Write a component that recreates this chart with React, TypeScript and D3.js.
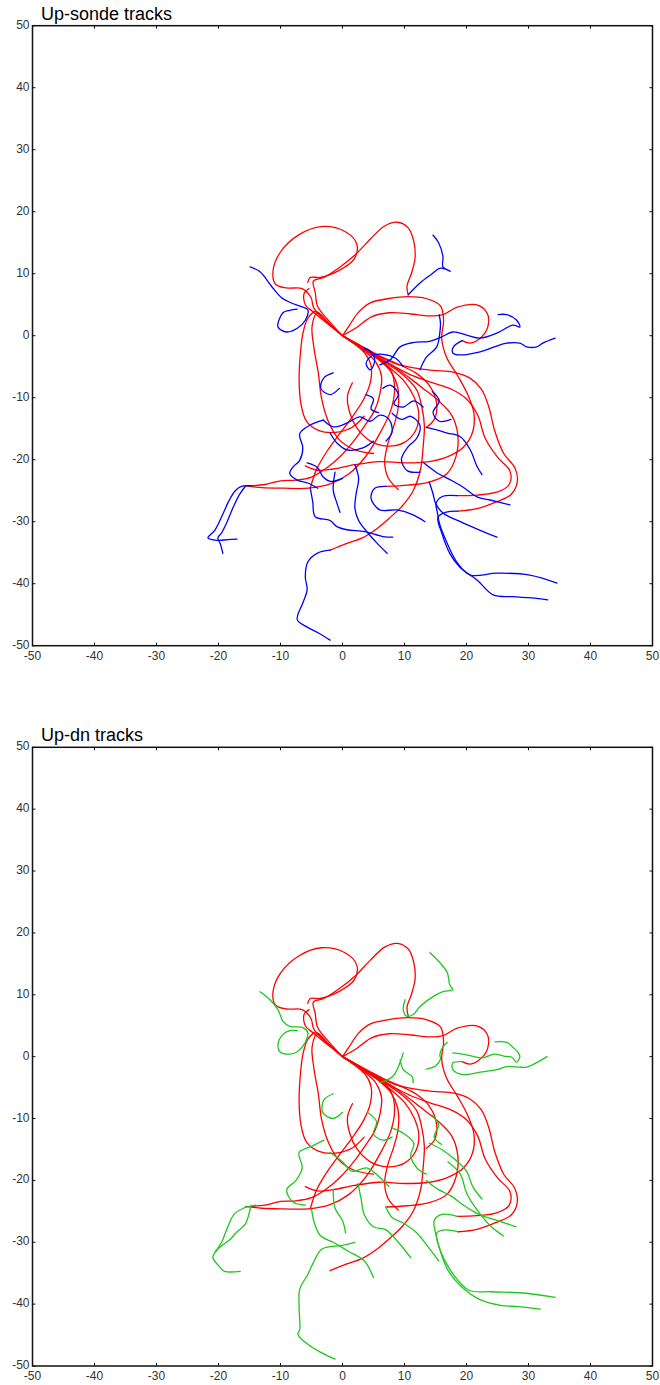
import React from 'react';
import * as d3 from 'd3';

type Pt = [number, number];

const tickValues = [-50, -40, -30, -20, -10, 0, 10, 20, 30, 40, 50];
const panelTitles = ['Up-sonde tracks', 'Up-dn tracks'];

// Up-sonde tracks, first (red) part, in km from launch
const redTracks: Pt[][] = [
  [[0,0],[-2.5,2.2],[-4.6,4.4],[-5.1,6.2],[-6.5,7.6],[-9,7.7],[-10.8,8.3],[-11.2,10.5],[-10,13.5],[-7,16.3],[-3.4,17.6],[0.4,16.8],[2.3,14.8],[1.9,12.4],[-0.6,10.5],[-3.6,9.4],[-5.2,9.4],[-5.6,8.6]],
  [[0,0],[-2.2,2.4],[-4,4.7],[-4.4,7],[-4.7,8.8],[-3,9.4],[-0.5,11],[2,13],[4.5,15.6],[6.8,17.7],[8.8,18.3],[10.6,17.4],[11.5,15.2],[11.7,12.5],[11.1,10],[10.4,8],[10.6,6.6]],
  [[0,0],[2.4,1.4],[4.6,3],[7.5,3.7],[11,3.5],[14,3.2],[16.2,3.4],[18.5,4.6],[21.5,5],[23.3,3.7],[23.4,1.3],[22.1,-0.5],[20.6,-1.2],[19.3,-0.8]],
  [[0,0],[2,-1.1],[4.2,-2.4],[6.4,-3.6],[8.8,-4.6],[11.5,-5.2],[14.5,-5.6],[18,-5.9],[20.5,-6.8],[22.4,-8.6],[23.6,-11.5],[24.6,-15.5],[26,-19],[27.8,-21.3],[28.2,-23.5],[27.2,-25.6],[24.8,-26.8],[21.7,-27.9],[18.6,-28.3]],
  [[0,0],[2,-1.2],[4.1,-2.5],[6.3,-3.8],[8.6,-5.1],[11.2,-6.4],[14.2,-7.5],[17.5,-8.6],[20,-10.2],[21.8,-12.8],[23,-16.5],[25,-19.6],[27,-21.8],[26.9,-24],[25,-25.2],[21.7,-25.7],[18.5,-25.8]],
  [[0,0],[1.2,1.8],[2.6,3.8],[4.5,5.3],[7.5,6],[10.5,6.3],[13.5,6],[15.8,4.8],[16.3,2.5],[16,-0.5],[16.8,-3.5],[18.6,-6.5],[20.2,-9.5],[21.2,-12.5],[21,-15.5],[19.5,-18],[17,-19.5],[14,-20.3],[10,-20.5],[6,-20.3],[2,-20.8],[-1.5,-21.5],[-4,-21.7],[-6,-21]],
  [[0,0],[1.9,-1.3],[3.8,-2.7],[5.4,-4.3],[6.3,-6.6],[6,-9.5],[5.2,-12],[3.6,-14.5],[1.8,-17],[-0.3,-19.4],[-2.5,-21.3],[-5,-22.8],[-7.5,-23.3],[-10,-23.4],[-12.5,-24],[-14.8,-24.2]],
  [[0,0],[2,-1.2],[4,-2.5],[6,-3.9],[7.8,-5.6],[8.4,-8.5],[7.8,-12],[6,-15.8],[3.8,-19.4],[1,-22.3],[-2,-23.9],[-5.5,-24.6],[-9.5,-24.6],[-13,-24.5],[-15.6,-24.2]],
  [[0,0],[2,-1.2],[4,-2.5],[6.2,-3.9],[8.4,-5.3],[10.4,-6.9],[12,-8.8],[12.8,-11.5],[13.2,-14.5],[13,-18],[12.6,-21.5],[11.4,-25],[9.6,-27.5],[7.7,-29.3],[5.7,-31],[3.2,-32.6],[0.7,-33.5],[-2,-34.6]],
  [[0,0],[2.1,-1.2],[4.2,-2.5],[6.4,-3.8],[8.6,-5.2],[10.8,-6.8],[13,-8.5],[15.5,-10.5],[17.6,-12.8],[18.6,-16],[18.3,-19.5],[16.8,-22.3],[14,-23.6],[10.5,-24.1],[7,-24.3]],
  [[0,0],[1.9,-1.2],[3.9,-2.5],[6,-3.9],[8,-5.5],[10,-7.4],[11.5,-9.8],[12.3,-12.5],[11.8,-15.3],[10,-17.2],[7.2,-17.8],[4.5,-17],[2.4,-15],[1.2,-12.5],[0.8,-9.8],[1.6,-7.6]],
  [[0,0],[2,-1.3],[4,-2.6],[6,-4],[7.8,-5.8],[8.9,-8.3],[9,-11.5],[8.3,-14.5],[7.3,-17.5],[6.8,-20.5],[7.4,-23],[9,-24.8]],
  [[0,0],[1.9,-1.3],[3.6,-2.8],[4.6,-4.8],[4.5,-7.5],[3.4,-10.3],[1.5,-13.2],[-0.6,-16],[-2.6,-18.8],[-4.2,-21.6],[-5.2,-24.6]],
  [[0,0],[2,-1.1],[4.2,-2.3],[6.5,-3.5],[9,-4.6],[11.8,-6],[14,-8],[15.2,-11],[14.8,-13.5],[13.5,-14.8]],
  [[0,0],[-2.2,2],[-4.3,3.9],[-5.6,2.8],[-6.4,0.3],[-6.8,-3],[-7,-7],[-6.7,-11],[-5.8,-13.8],[-3.8,-15.3],[-1.2,-15.6],[1.5,-14.8],[3.5,-13]],
  [[0,0],[-2,1.8],[-4.1,3.6],[-4.9,1.6],[-4.6,-2],[-3.9,-6],[-3.4,-10],[-2.3,-13.8],[-0.5,-16.8],[2,-18.4],[5,-19]],
  [[0,0],[-2.6,2.1],[-4.8,3.9],[-6,5],[-6.2,6.8],[-5.4,7.6]]
];

// Up-sonde tracks, later (blue) part
const blueTracks: Pt[][] = [
  [[-7.3,4.3],[-8.5,4.1],[-9.6,3.7],[-10.4,1.4],[-9,0.6],[-7.3,1.2],[-6,2.5],[-5.6,4.2],[-6.4,4.6],[-8.5,5.4],[-9.8,6.1],[-11.4,7.9],[-13.3,10.3],[-14.9,11.1]],
  [[10.6,6.6],[12.5,8.5],[14.2,9.8],[15.8,10.9],[17.4,10.4],[16.2,11.1],[16.2,12.8],[15.5,15],[14.6,16.2]],
  [[19.3,-0.8],[17.9,-1.8],[17.8,-2.8],[19,-3.1],[22.2,-2.6],[24.5,-1.8],[26.5,-1.2],[28.6,-1.2],[29.7,-1.8],[31.3,-1.8],[32.3,-1.2],[34.3,-0.4]],
  [[6,-4.7],[7.7,-3.9],[9.3,-1.8],[11.4,-1.1],[14,-0.9],[16,-0.2],[17.8,0.6],[20,0.1],[22.2,-0.4],[24.9,0.4],[27.5,1.7],[28.6,1.4],[28.1,2.5],[26.5,3.4],[25.1,3.4]],
  [[12.5,-5.5],[13.5,-3.5],[15.2,-1.8],[15.7,0.5],[15.8,2],[15.6,3.4]],
  [[3.5,-2],[4.5,-2.5],[5.2,-4],[4.5,-5.5],[3.8,-4.5],[4.8,-3.2],[6.5,-3],[8.5,-3.6],[9.8,-5]],
  [[18.6,-28.3],[16.6,-28.5],[15.4,-29.3],[16,-31.8],[17.3,-35.1],[18.9,-37.3],[21.7,-39.4],[24.3,-41.8],[27.5,-42.1],[30.5,-42.3],[33.1,-42.6]],
  [[18.5,-25.8],[16.2,-25.9],[15.1,-27],[15.3,-28.5],[15.7,-30.5],[16.9,-33.5],[18.5,-36.6],[20.6,-38.6],[24.9,-38.3],[30.2,-38.6],[34.6,-39.9]],
  [[-5.2,-24.6],[-4.8,-26.8],[-4.4,-29.2],[-2,-29.8],[-0.9,-30.8],[0.7,-31.3],[3.6,-31.6],[6.5,-32.4],[8.1,-32.5]],
  [[-1.2,-22],[-1.5,-24.9],[-0.9,-27],[-0.4,-28.5]],
  [[2,-20.8],[2.6,-23],[2.2,-25.5],[2,-27.8],[2.6,-29.8],[4,-31.7],[5.6,-33.5],[7.2,-35.1]],
  [[7,-24.3],[5.2,-24.6],[4.6,-26.2],[6,-28.1],[8.8,-28.1],[11.4,-28.9],[13.3,-30]],
  [[14,-23.6],[14.6,-25.5],[15,-27],[16.2,-28.6],[19,-30],[22.2,-31.4],[24.9,-32.5]],
  [[13,-20.4],[14,-21.2],[15.2,-22.1],[17.5,-23.3],[19.4,-24.4],[21.7,-26],[23.8,-26.5],[27,-27.3]],
  [[13.5,-14.8],[15.2,-15.2],[16.9,-15.7],[19,-16.3],[20.6,-18.4],[21.7,-21.1],[22.5,-22.4]],
  [[-14.8,-24.2],[-16.3,-24.3],[-17.3,-25],[-18.3,-26.6],[-19.4,-29],[-20.6,-31.4],[-21.7,-32.6],[-20.2,-33],[-18.5,-32.9],[-17,-32.8]],
  [[-15.6,-24.2],[-16.6,-25.6],[-17.6,-27.6],[-18.6,-30],[-19.5,-31.8],[-20.1,-32.6],[-19.7,-33.6],[-19.3,-35.1]],
  [[-2,-34.6],[-4.1,-35.1],[-5.6,-36.5],[-6,-38.9],[-5.7,-41],[-6.4,-43.1],[-7.3,-45.8],[-5.7,-47],[-3.8,-48],[-2,-49.1]],
  [[-3.1,-13.6],[-5.2,-14.4],[-6.9,-15.8],[-6.4,-18.1],[-6.9,-20.1],[-8,-21.2],[-8.5,-22.2],[-7.3,-23.3],[-5.5,-23.8],[-4,-24.6]],
  [[-3.1,-13.6],[-1.5,-14.7],[0.7,-14.1],[2.8,-13.1],[4.5,-13.8],[6,-12.8],[7.5,-13.5],[8,-15.5],[7,-17]],
  [[-2,-15.7],[-0.9,-17.3],[0.7,-18.4],[3.3,-18.1],[5,-17]],
  [[-5.7,-20.5],[-4.1,-21.2],[-3.1,-22.8],[-2,-23.5],[0,-23]],
  [[8,-12.5],[9.5,-13.5],[11,-13],[12.5,-14.5],[12,-16.5],[10.5,-18],[9.5,-20],[10.5,-21.8],[12.5,-22]],
  [[6.5,-8.5],[7.8,-8],[9,-9.5],[8.3,-11],[9.8,-11.5],[11.5,-10.5],[13,-11.5]],
  [[-1.5,-6],[-3,-6.8],[-3.5,-8.5],[-2,-9.5],[-0.5,-8.5]],
  [[14.5,-9],[15.6,-10.5],[14.6,-12.4],[15.6,-13.8],[17.5,-13.5]],
  [[3.8,-9.5],[5,-10.2],[4.6,-11.8],[5.8,-12.4]]
];

// Down-sonde tracks (green)
const greenTracks: Pt[][] = [
  [[-7.3,4.2],[-8.5,4.2],[-9.6,3.6],[-10.4,2],[-10.1,0.8],[-8.5,0.4],[-7.3,0.8],[-6,2.3],[-5.6,3.9],[-6.4,4.7],[-8.5,4.9],[-9.6,5.7],[-10.4,7.6],[-11.7,9.2],[-13.3,10.5]],
  [[10.1,9.2],[9.8,7.6],[10.4,6.5],[11.4,6.8],[12.5,8.1],[14.6,9.7],[16.2,10.5],[17.8,10.8],[17.3,11.6],[16.9,13.6],[15.7,15.2],[14.1,16.8]],
  [[19.3,-0.8],[17.8,-1],[17.8,-2.1],[19.4,-2.9],[22.2,-2.5],[24.9,-2.1],[26.5,-1.6],[28.6,-1.7],[29.7,-1.7],[30.7,-1.3],[33,0]],
  [[17.8,0.6],[20,0.3],[22.5,-0.2],[24.5,0.4],[26,0.1],[27.3,-0.1],[28.1,-0.9],[28.6,0],[28.3,0.7],[27.5,1.5],[26.5,2.3],[24.6,2.4]],
  [[6,-4.2],[8.1,-3.2],[9.3,-0.9],[9.8,0.6]],
  [[9.3,-0.5],[9.8,-2.1],[11.2,-3.2],[11.4,-4.2]],
  [[16.9,2.3],[16.2,1.6],[15.7,0.3],[15.8,-0.4],[15,-1.5],[13.5,-2]],
  [[18.6,-28.3],[16.5,-28],[15.2,-28.5],[15.5,-30.5],[16.8,-33.5],[18.5,-36],[20.5,-37.8],[24,-38],[29,-38.2],[34.3,-38.9]],
  [[18.5,-25.8],[16,-25.5],[14.8,-26.5],[15,-28.5],[15.8,-31.5],[17,-34.5],[19,-37],[22,-39.2],[25.5,-40.2],[28.5,-40.4],[31.9,-40.8]],
  [[2,-30],[0,-30.5],[-3.3,-31.1],[-4.8,-33.5],[-5.6,-35.2],[-6.9,-37.6],[-7,-40.5],[-6.9,-44.1],[-7.2,-44.9],[-5.6,-46.5],[-3.5,-47.8],[-1.2,-48.9]],
  [[-14.8,-24.2],[-15.7,-27.1],[-17,-28.3],[-18.1,-29.5],[-20.1,-31.1],[-20.9,-32.4],[-19.8,-34],[-19,-34.7],[-16.5,-34.7]],
  [[-14,-24],[-16,-24.5],[-17.5,-25.5],[-18.5,-27.5],[-19.5,-30],[-20.5,-31.5]],
  [[-5,-24.6],[-4.5,-27],[-3.5,-29],[-1.5,-30],[1,-31.5],[3.5,-33],[5,-35.7]],
  [[-1.5,-21.5],[-1.2,-24.5],[0,-26.5],[0.5,-28.5]],
  [[2.5,-20.5],[3,-23],[3.5,-25.5],[5,-27.5],[7,-28],[9,-30],[11,-32.5]],
  [[7,-24.3],[8,-26],[10,-27],[12,-28.5],[14,-31],[15.5,-33]],
  [[13.5,-20],[15.5,-21.5],[17.5,-22.5],[19.5,-24],[22,-25.5],[25,-26.5],[28,-27.5]],
  [[14,-14],[16,-15],[18,-16.5],[20,-18.5],[21,-21],[22.5,-23]],
  [[-3,-13.5],[-5,-14.5],[-7,-15.5],[-6.5,-18],[-7.5,-20],[-9,-21.5],[-8,-23.5],[-6,-24]],
  [[-2,-15.5],[0,-17],[1.5,-18.5],[4,-18],[6,-19.5],[7.5,-21]],
  [[8,-11.5],[10,-12.5],[11.5,-14],[11,-16],[12,-18],[13.5,-19]],
  [[17,-17],[19,-19],[20,-22],[21.5,-24.5],[24,-27.5],[26,-29]],
  [[-1.5,-6],[-3,-7],[-3.2,-9],[-1.5,-10],[0,-9]],
  [[4,-9],[5.5,-10.5],[5,-12.5],[6.5,-13.5],[8,-13]],
  [[14.5,-9.5],[15.5,-11],[14.8,-13],[16,-14.2]]
];

const RED = '#ff0000';
const BLUE = '#0000ff';
const GREEN = '#1ec81e';

interface PanelProps {
  id: string;
  title: string;
  yTop: number;
  yBottom: number;
  lower: Pt[][];
  lowerColor: string;
}

function Panel({ id, title, yTop, yBottom, lower, lowerColor }: PanelProps) {
  const x = d3.scaleLinear().domain([-50, 50]).range([32.5, 652.5]);
  const y = d3.scaleLinear().domain([-50, 50]).range([yBottom, yTop]);
  const line = d3
    .line<Pt>()
    .x((d) => x(d[0]))
    .y((d) => y(d[1]))
    .curve(d3.curveCatmullRom.alpha(0.5));
  const x0 = x(-50), x1 = x(50), y0 = y(50), y1 = y(-50);
  const tl = 3;
  return (
    <g>
      <defs>
        <clipPath id={id}>
          <rect x={x0} y={y0} width={x1 - x0} height={y1 - y0} />
        </clipPath>
      </defs>
      <g clipPath={`url(#${id})`} fill="none" strokeWidth={1.3} strokeLinejoin="round" strokeLinecap="round">
        {redTracks.map((t, i) => (
          <path key={'r' + i} d={line(t) || ''} stroke={RED} />
        ))}
        {lower.map((t, i) => (
          <path key={'b' + i} d={line(t) || ''} stroke={lowerColor} />
        ))}
      </g>
      <rect x={x0} y={y0} width={x1 - x0} height={y1 - y0} fill="none" stroke="#111" strokeWidth={1.5} />
      {tickValues.map((v) => (
        <g key={'t' + v} stroke="#111" strokeWidth={1}>
          <line x1={x(v)} x2={x(v)} y1={y1} y2={y1 - tl} />
          <line x1={x(v)} x2={x(v)} y1={y0} y2={y0 + tl} />
          <line x1={x0} x2={x0 + tl} y1={y(v)} y2={y(v)} />
          <line x1={x1} x2={x1 - tl} y1={y(v)} y2={y(v)} />
        </g>
      ))}
      <g fontFamily="'Liberation Sans', Arial, Helvetica, sans-serif" fontSize={12} fill="#333">
        {tickValues.map((v) => (
          <text key={'xl' + v} x={x(v)} y={y1 + 14} textAnchor="middle">{v}</text>
        ))}
        {tickValues.map((v) => (
          <text key={'yl' + v} x={x0 - 3} y={y(v) + 3} textAnchor="end">{v}</text>
        ))}
      </g>
      <text x={41} y={y0 - 6} fontFamily="'Liberation Sans', Arial, Helvetica, sans-serif" fontSize={18} fill="#000">{title}</text>
    </g>
  );
}

export default function App() {
  return (
    <svg width={660} height={1385} style={{ position: 'absolute', left: 0, top: 0, background: '#fff' }}>
      <rect x={0} y={0} width={660} height={1385} fill="#fff" />
      <Panel id="clipA" title={panelTitles[0]} yTop={25.7} yBottom={645.7} lower={blueTracks} lowerColor={BLUE} />
      <Panel id="clipB" title={panelTitles[1]} yTop={747.3} yBottom={1366} lower={greenTracks} lowerColor={GREEN} />
    </svg>
  );
}
